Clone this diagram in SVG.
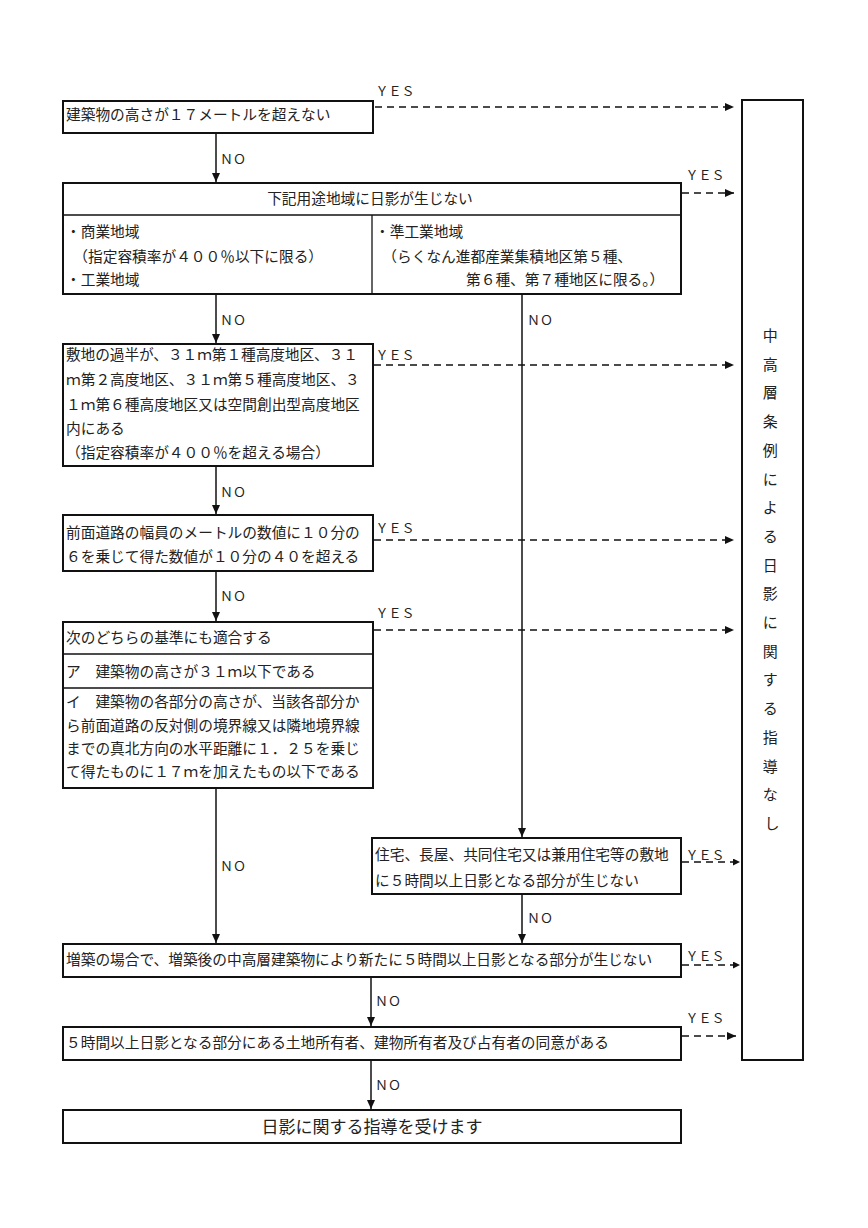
<svg xmlns="http://www.w3.org/2000/svg" width="868" height="1228" viewBox="0 0 868 1228">
<style>
text{font-family:"Noto Sans CJK JP","Noto Sans CJK SC",sans-serif;fill:#222;}
.t{font-size:14.7px;}
.lab{font-size:13px;}
.big{font-size:17px;}
.v{font-size:15px;text-anchor:middle;}
.box{fill:#fff;stroke:#111;stroke-width:2;}
.div{stroke:#111;stroke-width:1.3;fill:none;}
.solid{stroke:#111;stroke-width:1.5;fill:none;}
.dash{stroke:#111;stroke-width:1.5;fill:none;stroke-dasharray:7 5;}
</style>
<defs>
<marker id="ah" markerWidth="10" markerHeight="10" refX="9" refY="4" orient="auto" markerUnits="userSpaceOnUse"><path d="M0,0 L9,4 L0,8 Z" fill="#111"/></marker>
<marker id="ahs" markerWidth="8" markerHeight="8" refX="7" refY="3.5" orient="auto" markerUnits="userSpaceOnUse"><path d="M0,0 L7,3.5 L0,7 Z" fill="#111"/></marker>
</defs>
<rect width="868" height="1228" fill="#fff"/>

<g id="connectors">
<line class="dash" x1="375" y1="107" x2="734" y2="107" marker-end="url(#ah)"/>
<line class="solid" x1="216" y1="133" x2="216" y2="182" marker-end="url(#ah)"/>
<line class="dash" x1="682" y1="193" x2="734" y2="193" marker-end="url(#ah)"/>
<line class="solid" x1="216" y1="294" x2="216" y2="343" marker-end="url(#ah)"/>
<line class="solid" x1="522" y1="294" x2="522" y2="837" marker-end="url(#ah)"/>
<line class="dash" x1="374" y1="365" x2="734" y2="365" marker-end="url(#ah)"/>
<line class="solid" x1="216" y1="466" x2="216" y2="514" marker-end="url(#ah)"/>
<line class="dash" x1="374" y1="540" x2="734" y2="540" marker-end="url(#ah)"/>
<line class="solid" x1="216" y1="571" x2="216" y2="621" marker-end="url(#ah)"/>
<line class="dash" x1="374" y1="630" x2="734" y2="630" marker-end="url(#ah)"/>
<line class="solid" x1="216" y1="788" x2="216" y2="943" marker-end="url(#ah)"/>
<line class="dash" x1="682" y1="862" x2="740" y2="862" marker-end="url(#ahs)"/>
<line class="solid" x1="522" y1="894" x2="522" y2="943" marker-end="url(#ah)"/>
<line class="dash" x1="682" y1="965" x2="740" y2="965" marker-end="url(#ahs)"/>
<line class="solid" x1="371" y1="977" x2="371" y2="1026" marker-end="url(#ah)"/>
<line class="dash" x1="682" y1="1036" x2="736" y2="1036" marker-end="url(#ah)"/>
<line class="solid" x1="371" y1="1060" x2="371" y2="1109" marker-end="url(#ah)"/>
<text class="lab" x="375.5" y="96">ＹＥＳ</text>
<text class="lab" x="220" y="164">ＮＯ</text>
<text class="lab" x="685.5" y="180">ＹＥＳ</text>
<text class="lab" x="220" y="325">ＮＯ</text>
<text class="lab" x="527" y="325">ＮＯ</text>
<text class="lab" x="375.5" y="360">ＹＥＳ</text>
<text class="lab" x="220" y="497">ＮＯ</text>
<text class="lab" x="375.5" y="533">ＹＥＳ</text>
<text class="lab" x="220" y="601">ＮＯ</text>
<text class="lab" x="375.5" y="618">ＹＥＳ</text>
<text class="lab" x="220" y="871">ＮＯ</text>
<text class="lab" x="685.5" y="860">ＹＥＳ</text>
<text class="lab" x="527" y="923">ＮＯ</text>
<text class="lab" x="685.5" y="961">ＹＥＳ</text>
<text class="lab" x="375" y="1006">ＮＯ</text>
<text class="lab" x="685.5" y="1023">ＹＥＳ</text>
<text class="lab" x="375" y="1090">ＮＯ</text>
</g>

<g id="n1">
<rect class="box" x="63" y="101" width="310" height="32"/>
<text class="t" x="66" y="120">建築物の高さが１７メートルを超えない</text>
</g>

<g id="n2">
<rect class="box" x="63" y="183" width="618" height="111"/>
<line class="div" x1="63" y1="215" x2="681" y2="215"/>
<line class="div" x1="372" y1="215" x2="372" y2="294"/>
<text class="t" x="370" y="204" text-anchor="middle">下記用途地域に日影が生じない</text>
<text class="t" x="66" y="237">・商業地域</text>
<text class="t" x="66" y="262">　（指定容積率が４００％以下に限る）</text>
<text class="t" x="66" y="285">・工業地域</text>
<text class="t" x="375" y="237">・準工業地域</text>
<text class="t" x="375" y="262">　（らくなん進都産業集積地区第５種、</text>
<text class="t" x="466" y="285">第６種、第７種地区に限る。）</text>
</g>

<g id="n3">
<rect class="box" x="63" y="344" width="310" height="122"/>
<text class="t" x="66" y="360" textLength="292" lengthAdjust="spacing">敷地の過半が、３１ｍ第１種高度地区、３１</text>
<text class="t" x="66" y="385">ｍ第２高度地区、３１ｍ第５種高度地区、３</text>
<text class="t" x="66" y="410">１ｍ第６種高度地区又は空間創出型高度地区</text>
<text class="t" x="66" y="434">内にある</text>
<text class="t" x="66" y="458">（指定容積率が４００％を超える場合）</text>
</g>

<g id="n4">
<rect class="box" x="63" y="515" width="310" height="56"/>
<text class="t" x="66" y="538">前面道路の幅員のメートルの数値に１０分の</text>
<text class="t" x="66" y="562">６を乗じて得た数値が１０分の４０を超える</text>
</g>

<g id="n5">
<rect class="box" x="63" y="622" width="310" height="166"/>
<line class="div" x1="63" y1="654" x2="373" y2="654"/>
<line class="div" x1="63" y1="688" x2="373" y2="688"/>
<text class="t" x="66" y="643">次のどちらの基準にも適合する</text>
<text class="t" x="66" y="677">ア　建築物の高さが３１ｍ以下である</text>
<text class="t" x="66" y="707">イ　建築物の各部分の高さが、当該各部分か</text>
<text class="t" x="66" y="731">ら前面道路の反対側の境界線又は隣地境界線</text>
<text class="t" x="66" y="754">までの真北方向の水平距離に１．２５を乗じ</text>
<text class="t" x="66" y="777">て得たものに１７ｍを加えたもの以下である</text>
</g>

<g id="n6">
<rect class="box" x="372" y="838" width="309" height="56"/>
<text class="t" x="375" y="860">住宅、長屋、共同住宅又は兼用住宅等の敷地</text>
<text class="t" x="375" y="886">に５時間以上日影となる部分が生じない</text>
</g>

<g id="n7">
<rect class="box" x="63" y="944" width="618" height="33"/>
<text class="t" x="66" y="965">増築の場合で、増築後の中高層建築物により新たに５時間以上日影となる部分が生じない</text>
</g>

<g id="n8">
<rect class="box" x="63" y="1027" width="618" height="33"/>
<text class="t" x="66" y="1048">５時間以上日影となる部分にある土地所有者、建物所有者及び占有者の同意がある</text>
</g>

<g id="n9">
<rect class="box" x="63" y="1110" width="618" height="33"/>
<text class="big" x="372" y="1133" text-anchor="middle">日影に関する指導を受けます</text>
</g>

<g id="n10">
<rect class="box" x="742" y="100" width="61" height="960"/>
<text class="v">
<tspan x="772" y="341">中</tspan>
<tspan x="772" y="369.7">高</tspan>
<tspan x="772" y="398.4">層</tspan>
<tspan x="772" y="427.1">条</tspan>
<tspan x="772" y="455.8">例</tspan>
<tspan x="772" y="484.5">に</tspan>
<tspan x="772" y="513.2">よ</tspan>
<tspan x="772" y="541.9">る</tspan>
<tspan x="772" y="570.6">日</tspan>
<tspan x="772" y="599.3">影</tspan>
<tspan x="772" y="628">に</tspan>
<tspan x="772" y="656.7">関</tspan>
<tspan x="772" y="685.4">す</tspan>
<tspan x="772" y="714.1">る</tspan>
<tspan x="772" y="742.8">指</tspan>
<tspan x="772" y="771.5">導</tspan>
<tspan x="772" y="800.2">な</tspan>
<tspan x="772" y="828.9">し</tspan>
</text>
</g>
</svg>
